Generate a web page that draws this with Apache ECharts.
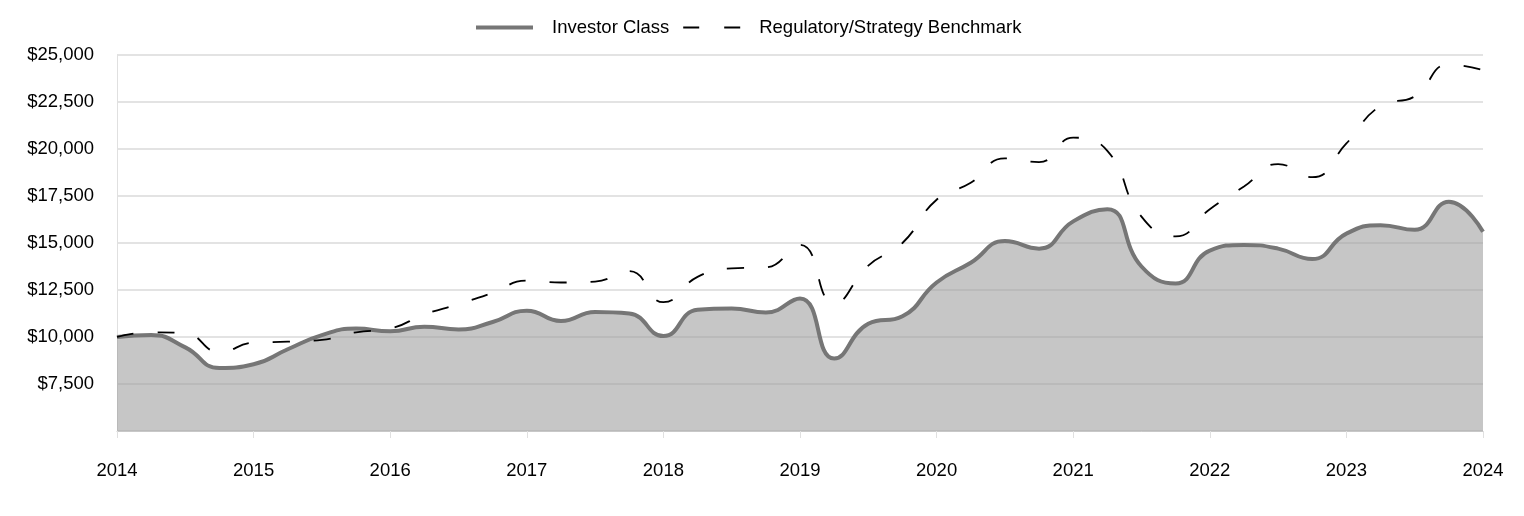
<!DOCTYPE html>
<html><head><meta charset="utf-8">
<script src="https://cdn.jsdelivr.net/npm/echarts@6/dist/echarts.min.js"></script>
<style>html,body{margin:0;padding:0;background:#fff}#c{width:1524px;height:516px}</style>
</head><body><div id="c"></div>
<script>
const quarters = [2014.00,2014.25,2014.50,2014.75,2015.00,2015.25,2015.50,2015.75,2016.00,2016.25,2016.50,2016.75,
  2017.00,2017.25,2017.50,2017.75,2018.00,2018.25,2018.50,2018.75,2019.00,2019.25,2019.50,2019.75,
  2020.00,2020.25,2020.50,2020.75,2021.00,2021.25,2021.50,2021.75,2022.00,2022.25,2022.50,2022.75,
  2023.00,2023.25,2023.50,2023.75,2024.00];
const investorClass = [10000,10100,9450,8350,8550,9350,10100,10450,10300,10550,10400,10800,
  11400,10850,11330,11250,10050,11450,11520,11300,12050,8850,10700,11100,
  12900,13950,15100,14700,16150,16800,13750,12850,14600,14900,14700,14150,
  15500,15950,15700,17200,15600];
const benchmark = [10000,10250,10200,9200,9700,9750,9850,10250,10450,11200,11750,12350,
  13000,12900,12950,13500,11850,13200,13650,13700,14900,11800,13800,15000,
  17300,18200,19500,19300,20600,19900,16400,15350,16800,18000,19200,18500,
  20300,22300,22800,24500,24200];
const seriesNames = ['Investor Class', 'Regulatory/Strategy Benchmark'];

const pair = (vals) => quarters.map((q, i) => [q, vals[i]]);
const font = '"Liberation Sans", Arial, sans-serif';
const fs = 18.5;
const chart = echarts.init(document.getElementById('c'));
chart.setOption({
  animation: false,
  legend: {
    top: 13, left: 471, itemWidth: 57, itemHeight: 20, itemGap: 14,
    textStyle: { fontFamily: font, fontSize: fs, color: '#000', padding: [0, 0, 0, 14] },
    data: [
      { name: seriesNames[0], icon: 'path://M0,0H57V4H0Z', itemStyle: { color: '#767676', borderWidth: 0 } },
      { name: seriesNames[1], icon: 'path://M0,0H16V2H0ZM41,0H57V2H41Z', itemStyle: { color: '#000', borderWidth: 0 } }
    ]
  },
  grid: { left: 117, right: 41, top: 55, bottom: 85, containLabel: false },
  xAxis: {
    type: 'value', min: 2014, max: 2024, interval: 1,
    axisLine: { show: true, lineStyle: { color: '#c8c8c8', width: 1 } },
    axisTick: { show: true, length: 7, lineStyle: { color: '#e0e0e0' } },
    splitLine: { show: false },
    axisLabel: { margin: 30, fontFamily: font, fontSize: fs, color: '#000', formatter: v => String(v) }
  },
  yAxis: {
    type: 'value', min: 5000, max: 25000, interval: 2500,
    axisLine: { show: true, lineStyle: { color: '#e0e0e0', width: 1 } },
    axisTick: { show: false },
    splitLine: { show: true, lineStyle: { color: '#e3e3e3', width: 2 } },
    axisLabel: { margin: 23, fontFamily: font, fontSize: fs, color: '#000',
      formatter: v => v === 5000 ? '' : '$' + v.toLocaleString('en-US') }
  },
  series: [
    {
      name: seriesNames[0], type: 'line', data: pair(investorClass), smooth: 0.5,
      showSymbol: false, symbol: 'none',
      lineStyle: { color: '#767676', width: 4 },
      itemStyle: { color: '#767676' },
      areaStyle: { color: '#9a9a9a', opacity: 0.57, origin: 'start' },
      z: 2
    },
    {
      name: seriesNames[1], type: 'line', data: pair(benchmark), smooth: 0.5,
      showSymbol: false, symbol: 'none',
      lineStyle: { color: '#000', width: 1.8, type: [17, 24] },
      itemStyle: { color: '#000' },
      z: 3
    }
  ]
});
</script></body></html>
